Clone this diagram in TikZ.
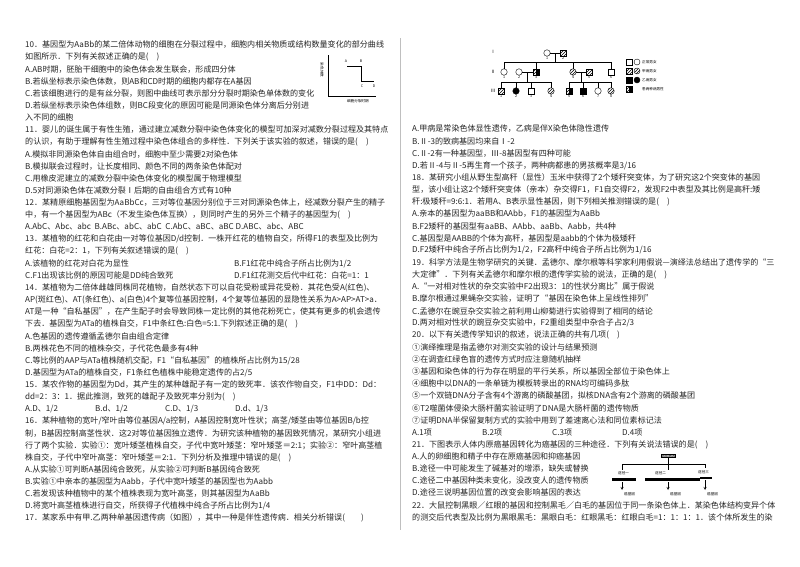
\documentclass[tikz,border=0pt]{standalone}
\usepackage{fontspec}
\setmainfont{Noto Sans CJK SC}
\usetikzlibrary{patterns}
\begin{document}
\begin{tikzpicture}[x=1pt,y=-1pt,
  txt/.style={anchor=west,inner sep=0pt,font=\fontsize{8.05}{9}\selectfont,text=black!85},
  tiny/.style={inner sep=0pt,font=\fontsize{3.6}{4}\selectfont},
  sym/.style={draw,line width=0.4pt},
  hat/.style={sym,pattern=north east lines},
  blk/.style={sym,fill=black},
  ped/.style={line width=0.4pt}]
\useasboundingbox (0,0) rectangle (800,566);
\fill[white] (0,0) rectangle (800,566);
\newcommand\Lq[4]{\node[txt] (#1) at (#2,{45+12.13*#3}) {#4};}
\newcommand\Rq[4]{\node[txt] (#1) at (#2,{129+12.13*#3}) {#4};}
% separator
\draw[black!25,line width=0.8pt] (400,38) -- (400,530);
% ---------- left column
\Lq{l0}{25}{0}{10．基因型为AaBb的某二倍体动物的细胞在分裂过程中，细胞内相关物质或结构数量变化的部分曲线}
\Lq{l1}{25}{1}{如图所示．下列有关叙述正确的是(　)}
\Lq{l2}{25}{2}{A.AB时期，胚胎干细胞中的染色体会发生联会，形成四分体}
\Lq{l3}{25}{3}{B.若纵坐标表示染色体数，则AB和CD时期的细胞内都存在A基因}
\Lq{l4}{25}{4}{C.若该细胞进行的是有丝分裂，则图中曲线可表示部分分裂时期染色单体数的变化}
\Lq{l5}{25}{5}{D.若纵坐标表示染色体组数，则BC段变化的原因可能是同源染色体分离后分别进}
\Lq{l6}{25}{6}{入不同的细胞}
\Lq{l7}{25}{7}{11．婴儿的诞生属于有性生殖，通过建立减数分裂中染色体变化的模型可加深对减数分裂过程及其特点}
\Lq{l8}{25}{8}{的认识，有助于理解有性生殖过程中染色体组合的多样性．下列关于该实验的叙述，错误的是(　)}
\Lq{l9}{25}{9}{A.模拟非同源染色体自由组合时，细胞中至少需要2对染色体}
\Lq{l10}{25}{10}{B.模拟联会过程时，让长度相同、颜色不同的两条染色体配对}
\Lq{l11}{25}{11}{C.用橡皮泥建立的减数分裂中染色体变化的模型属于物理模型}
\Lq{l12}{25}{12}{D.5对同源染色体在减数分裂Ⅰ后期的自由组合方式有10种}
\Lq{l13}{25}{13}{12．某精原细胞基因型为AaBbCc，三对等位基因分别位于三对同源染色体上，经减数分裂产生的精子}
\Lq{l14}{25}{14}{中，有一个基因型为ABc（不发生染色体互换），则同时产生的另外三个精子的基因型为(　)}
\Lq{l15}{25}{15}{A.AbC、Abc、abc\ \ B.ABc、abC、abC\ \ C.AbC、aBC、aBC D.ABC、abc、ABC}
\Lq{l16}{25}{16}{13．某植物的红花和白花由一对等位基因D/d控制．一株开红花的植物自交，所得F1的表型及比例为}
\Lq{l17}{25}{17}{红花：白花=2：1，下列有关叙述错误的是(　)}
\Lq{l18}{25}{18}{A.该植物的红花对白花为显性}
\Lq{l18b}{234}{18}{B.F1红花中纯合子所占比例为1/2}
\Lq{l19}{25}{19}{C.F1出现该比例的原因可能是DD纯合致死}
\Lq{l19b}{234}{19}{D.F1红花测交后代中红花：白花=1：1}
\Lq{l20}{25}{20}{14．某植物为二倍体雌雄同株同花植物，自然状态下可以自花受粉或异花受粉．其花色受A(红色)、}
\Lq{l21}{25}{21}{AP(斑红色)、AT(条红色)、a(白色)4个复等位基因控制，4个复等位基因的显隐性关系为A>AP>AT>a．}
\Lq{l22}{25}{22}{AT是一种“自私基因”，在产生配子时会导致同株一定比例的其他花粉死亡，使其有更多的机会遗传}
\Lq{l23}{25}{23}{下去．基因型为ATa的植株自交，F1中条红色:白色=5:1.下列叙述正确的是(　)}
\Lq{l24}{25}{24}{A.色基因的遗传遵循孟德尔自由组合定律}
\Lq{l25}{25}{25}{B.两株花色不同的植株杂交，子代花色最多有4种}
\Lq{l26}{25}{26}{C.等比例的AAP与ATa植株随机交配，F1“自私基因”的植株所占比例为15/28}
\Lq{l27}{25}{27}{D.基因型为ATa的植株自交，F1条红色植株中能稳定遗传的占2/5}
\Lq{l28}{25}{28}{15．某农作物的基因型为Dd，其产生的某种雄配子有一定的致死率．该农作物自交，F1中DD：Dd：}
\Lq{l29}{25}{29}{dd=2：3：1．据此推测，致死的雄配子及致死率分别为(　)}
\Lq{l30a}{25}{30}{A.D、1/2}
\Lq{l30b}{95}{30}{B.d、1/2}
\Lq{l30c}{165}{30}{C.D、1/3}
\Lq{l30d}{235}{30}{D.d、1/3}
\Lq{l31}{25}{31}{16．某种植物的宽叶/窄叶由等位基因A/a控制，A基因控制宽叶性状；高茎/矮茎由等位基因B/b控}
\Lq{l32}{25}{32}{制，B基因控制高茎性状．这2对等位基因独立遗传．为研究该种植物的基因致死情况，某研究小组进}
\Lq{l33}{25}{33}{行了两个实验．实验①：宽叶矮茎植株自交，子代中宽叶矮茎：窄叶矮茎＝2:1；实验②：窄叶高茎植}
\Lq{l34}{25}{34}{株自交，子代中窄叶高茎：窄叶矮茎＝2:1．下列分析及推理中错误的是(　)}
\Lq{l35}{25}{35}{A.从实验①可判断A基因纯合致死，从实验②可判断B基因纯合致死}
\Lq{l36}{25}{36}{B.实验①中亲本的基因型为Aabb，子代中宽叶矮茎的基因型也为Aabb}
\Lq{l37}{25}{37}{C.若发现该种植物中的某个植株表现为宽叶高茎，则其基因型为AaBb}
\Lq{l38}{25}{38}{D.将宽叶高茎植株进行自交，所获得子代植株中纯合子所占比例为1/4}
\Lq{l39}{25}{39}{17．某家系中有甲.乙两种单基因遗传病（如图），其中一种是伴性遗传病．相关分析错误(　　)}
% Q10 graph
\coordinate (o) at (328,96);
\coordinate (yt) at (328,55);
\coordinate (xr) at (376,96);
\draw[line width=0.5pt] (yt) -- (o) -- (xr);
\coordinate (pa) at (347,66); \coordinate (pb) at (361,66);
\coordinate (pc) at (361,81); \coordinate (pd) at (374,81);
\draw[line width=0.5pt] (pa) -- (pb) -- (pc) -- (pd);
\node[tiny] (la) at (346,61) {A};
\node[tiny] (lb) at (361,61) {B};
\node[tiny] (lc) at (362,86) {C};
\node[tiny] (ld) at (374,86) {D};
\node[tiny,rotate=-90] (ylab) at (322,70) {染色体数};
\node[tiny] (xlab) at (358,101) {细胞分裂时期};
% ---------- right column
\Rq{r0}{412}{0}{A.甲病是常染色体显性遗传，乙病是伴X染色体隐性遗传}
\Rq{r1}{412}{1}{B.Ⅱ-3的致病基因均来自Ⅰ-2}
\Rq{r2}{412}{2}{C.Ⅱ-2有一种基因型，Ⅲ-8基因型有四种可能}
\Rq{r3}{412}{3}{D.若Ⅱ-4与Ⅱ-5再生育一个孩子，两种病都患的男孩概率是3/16}
\Rq{r4}{412}{4}{18．某研究小组从野生型高秆（显性）玉米中获得了2个矮秆突变体，为了研究这2个突变体的基因}
\Rq{r5}{412}{5}{型，该小组让这2个矮秆突变体（亲本）杂交得F1，F1自交得F2，发现F2中表型及其比例是高秆:矮}
\Rq{r6}{412}{6}{秆:极矮秆=9:6:1．若用A、B表示显性基因，则下列相关推测错误的是(　)}
\Rq{r7}{412}{7}{A.亲本的基因型为aaBB和AAbb，F1的基因型为AaBb}
\Rq{r8}{412}{8}{B.F2矮秆的基因型有aaBB、AAbb、aaBb、Aabb，共4种}
\Rq{r9}{412}{9}{C.基因型是AABB的个体为高秆，基因型是aabb的个体为极矮秆}
\Rq{r10}{412}{10}{D.F2矮秆中纯合子所占比例为1/2，F2高秆中纯合子所占比例为1/16}
\Rq{r11}{412}{11}{19．科学方法是生物学研究的关键．孟德尔、摩尔根等科学家利用假说—演绎法总结出了遗传学的“三}
\Rq{r12}{412}{12}{大定律”．下列有关孟德尔和摩尔根的遗传学实验的说法，正确的是(　)}
\Rq{r13}{412}{13}{A.“一对相对性状的杂交实验中F2出现3：1的性状分离比”属于假说}
\Rq{r14}{412}{14}{B.摩尔根通过果蝇杂交实验，证明了“基因在染色体上呈线性排列”}
\Rq{r15}{412}{15}{C.孟德尔在豌豆杂交实验之前利用山柳菊进行实验得到了相同的结论}
\Rq{r16}{412}{16}{D.两对相对性状的豌豆杂交实验中，F2重组类型中杂合子占2/3}
\Rq{r17}{412}{17}{20．以下有关遗传学知识的叙述，说法正确的共有几项(　)}
\Rq{r18}{412}{18}{①演绎推理是指孟德尔对测交实验的设计与结果预测}
\Rq{r19}{412}{19}{②在调查红绿色盲的遗传方式时应注意随机抽样}
\Rq{r20}{412}{20}{③基因和染色体的行为存在明显的平行关系，所以基因全部位于染色体上}
\Rq{r21}{412}{21}{④细胞中以DNA的一条单链为模板转录出的RNA均可编码多肽}
\Rq{r22}{412}{22}{⑤一个双链DNA分子含有4个游离的磷酸基团，拟核DNA含有2个游离的磷酸基团}
\Rq{r23}{412}{23}{⑥T2噬菌体侵染大肠杆菌实验证明了DNA是大肠杆菌的遗传物质}
\Rq{r24}{412}{24}{⑦证明DNA半保留复制方式的实验中用到了差速离心法和同位素标记法}
\Rq{r25a}{412}{25}{A.1项}
\Rq{r25b}{482}{25}{B.2项}
\Rq{r25c}{552}{25}{C.3项}
\Rq{r25d}{622}{25}{D.4项}
\Rq{r26}{412}{26}{21．下图表示人体内原癌基因转化为癌基因的三种途径．下列有关说法错误的是(　)}
\Rq{r27}{412}{27}{A.人的卵细胞和精子中存在原癌基因和抑癌基因}
\Rq{r28}{412}{28}{B.途径一中可能发生了碱基对的增添，缺失或替换}
\Rq{r29}{412}{29}{C.途径二中基因种类未变化，没改变人的遗传物质}
\Rq{r30}{412}{30}{D.途径三说明基因位置的改变会影响基因的表达}
\Rq{r31}{412}{31}{22．大鼠控制黑眼／红眼的基因和控制黑毛／白毛的基因位于同一条染色体上．某染色体结构变异个体}
\Rq{r32}{412}{32}{的测交后代表型及比例为黑眼黑毛：黑眼白毛：红眼黑毛：红眼白毛=1：1：1：1．该个体所发生的染}
% ---------- pedigree
\node[tiny,font=\fontsize{4.5}{5}\selectfont] (g1) at (493,52) {Ⅰ};
\node[tiny,font=\fontsize{4.5}{5}\selectfont] (g2) at (493,72) {Ⅱ};
\node[tiny,font=\fontsize{4.5}{5}\selectfont] (g3) at (493,91) {Ⅲ};
% gen I
\node[sym,circle,minimum size=6.5pt,inner sep=0pt] (i1) at (547,53) {};
\node[hat,rectangle,minimum size=6pt,inner sep=0pt] (i2) at (563,53) {};
\draw[ped] (i1) -- (i2);
\coordinate (m1) at (555,53); \coordinate (m1d) at (555,62);
\draw[ped] (m1) -- (m1d);
\coordinate (s1l) at (504,62); \coordinate (s1r) at (611,62);
\draw[ped] (s1l) -- (s1r);
% gen II
\node[sym,circle,minimum size=6.5pt,inner sep=0pt] (ii1) at (504,72) {};
\node[sym,circle,minimum size=6.5pt,inner sep=0pt] (ii2) at (519,72) {};
\node[hat,rectangle,minimum size=6pt,inner sep=0pt] (ii3) at (536,72) {};
\fill (536,69) rectangle (539,75);
\node[hat,circle,minimum size=6.5pt,inner sep=0pt] (ii4) at (573,72) {};
\node[hat,rectangle,minimum size=6pt,inner sep=0pt] (ii5) at (589,72) {};
\node[sym,rectangle,minimum size=6pt,inner sep=0pt] (ii6) at (611,72) {};
\foreach \n/\x in {ii1/504,ii3/536,ii4/573,ii6/611}{\draw[ped] (\x,62) -- (\n.north);}
\draw[ped] (ii2) -- (ii3);
\draw[ped] (ii4) -- (ii5);
\draw[ped] (527.5,72) -- (527.5,82);
\draw[ped] (581,72) -- (581,82);
\draw[ped] (501,82) -- (551,82);
\draw[ped] (569,82) -- (611,82);
% gen III
\node[hat,rectangle,minimum size=6pt,inner sep=0pt] (iii1) at (501,91) {};
\node[blk,circle,minimum size=6.5pt,inner sep=0pt] (iii2) at (516,91) {};
\node[sym,rectangle,minimum size=6pt,inner sep=0pt] (iii3) at (531,91) {};
\node[hat,circle,minimum size=6.5pt,inner sep=0pt] (iii4) at (551,91) {};
\node[hat,rectangle,minimum size=6pt,inner sep=0pt] (iii5) at (569,91) {};
\fill (569,88) rectangle (572,94);
\node[blk,rectangle,minimum size=6pt,inner sep=0pt] (iii6) at (583,91) {};
\node[sym,circle,minimum size=6.5pt,inner sep=0pt] (iii7) at (598,91) {};
\node[hat,circle,minimum size=6.5pt,inner sep=0pt] (iii8) at (611,91) {};
\foreach \n/\x in {iii1/501,iii2/516,iii3/531,iii4/551,iii5/569,iii6/583,iii7/598,iii8/611}{\draw[ped] (\x,82) -- (\n.north);}
% numbers
\foreach \n/\t in {i1/1,i2/2,ii1/1,ii2/2,ii3/3,ii4/4,ii5/5,ii6/6,iii1/1,iii2/2,iii3/3,iii4/4,iii5/5,iii6/6,iii7/7,iii8/8}{\node[tiny,anchor=north] (n\n) at ([yshift=-0.6pt]\n.south) {\t};}
% legend
\node[sym,rectangle,minimum size=5.5pt,inner sep=0pt] (k1a) at (629,62) {};
\node[sym,circle,minimum size=6pt,inner sep=0pt] (k1b) at (637,62) {};
\node[hat,rectangle,minimum size=5.5pt,inner sep=0pt] (k2a) at (629,71) {};
\node[hat,circle,minimum size=6pt,inner sep=0pt] (k2b) at (637,71) {};
\node[blk,rectangle,minimum size=5.5pt,inner sep=0pt] (k3a) at (629,80) {};
\node[blk,circle,minimum size=6pt,inner sep=0pt] (k3b) at (637,80) {};
\node[hat,rectangle,minimum size=5.5pt,inner sep=0pt] (k4a) at (629,89) {};
\fill (629,86.25) rectangle (631.75,91.75);
\node[tiny,anchor=west] (t1) at (642,62) {正常男女};
\node[tiny,anchor=west] (t2) at (642,71) {甲病男女};
\node[tiny,anchor=west] (t3) at (642,80) {乙病男女};
\node[tiny,anchor=west] (t4) at (642,89) {患两种病男性};
% ---------- Q21 figure
\node[tiny,draw,fill=black!15] (onc) at (668,456) {原癌基因};
\coordinate (b0) at (622,464); \coordinate (b1) at (668,464); \coordinate (b2) at (705,464);
\draw[ped] (onc.south) -- (b1);
\draw[ped] (b0) -- (b2);
\draw[ped] (b0) -- (622,470);
\draw[ped] (b1) -- (668,470);
\draw[ped] (b2) -- (705,468);
\node[tiny,anchor=west] (p1) at (618,473) {途径一};
\node[tiny,anchor=west] (p2) at (655,473) {途径二};
\node[tiny,anchor=west] (p3) at (698,472) {途径三};
\fill (612,478) rectangle (636,481);
\fill (645,478) rectangle (700,481);
\fill (700,477) rectangle (712,479);
\draw[ped,->,>=stealth] (622,482) -- (622,490);
\draw[ped,->,>=stealth] (668,482) -- (668,490);
\draw[ped,->,>=stealth] (705,480) -- (705,490);
\node[tiny,anchor=west] (q1) at (624,494) {癌基因};
\node[tiny,anchor=west] (q2) at (670,494) {癌基因};
\node[tiny,anchor=west] (q3) at (707,494) {癌基因};
\end{tikzpicture}
\end{document}
